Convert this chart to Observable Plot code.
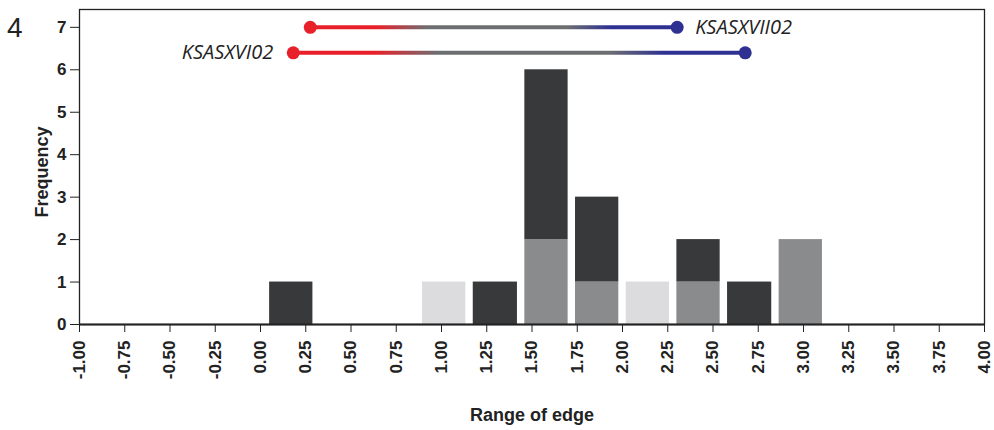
<!DOCTYPE html>
<html><head><meta charset="utf-8">
<script src="https://cdn.jsdelivr.net/npm/d3@7"></script>
<script src="https://cdn.jsdelivr.net/npm/@observablehq/plot@0.6"></script>
<style>
body{margin:0;background:#fff;}
#wrap{position:relative;width:994px;height:430px;}
#num{position:absolute;left:7px;top:12px;font:28px "Liberation Sans",Arial,sans-serif;color:#222;}
</style></head><body>
<div id="wrap"><div id="num">4</div></div>
<script>
// Histogram bins (range of edge)
const binStart = [0.03, 0.875, 1.155, 1.44, 1.72, 2.00, 2.28, 2.56, 2.845];
const binEnd   = [0.31, 1.155, 1.44, 1.72, 2.00, 2.28, 2.56, 2.845, 3.125];
// Stacked series (frequency)
const groups = ["light", "mid", "dark"];
const lightCounts = [0, 1, 0, 0, 0, 1, 0, 0, 0];
const midCounts   = [0, 0, 0, 2, 1, 0, 1, 0, 2];
const darkCounts  = [1, 0, 1, 4, 2, 0, 1, 1, 0];
const groupColors = ["#dcdcde", "#8a8b8d", "#38393b"];
// Range lines
const rangeNames = ["KSASXVII02", "KSASXVI02"];
const rangeStart = [0.275, 0.181];
const rangeEnd   = [2.302, 2.678];
const rangeLevel = [7, 6.4];
// Ticks
const xTicks = [-1, -0.75, -0.5, -0.25, 0, 0.25, 0.5, 0.75, 1, 1.25, 1.5, 1.75, 2, 2.25, 2.5, 2.75, 3, 3.25, 3.5, 3.75, 4];
const yTicks = [0, 1, 2, 3, 4, 5, 6, 7];

const series = [lightCounts, midCounts, darkCounts];
const bars = [];
binStart.forEach((x1, i) => {
  groups.forEach((g, j) => {
    const c = series[j][i];
    if (c > 0) bars.push({x1, x2: binEnd[i], group: g, count: c});
  });
});
const ranges = rangeNames.map((name, i) => ({name, start: rangeStart[i], end: rangeEnd[i], level: rangeLevel[i]}));

const gradStops = [[0, "#e8202a"], [0.18, "#e8202a"], [0.32, "#6d6e71"], [0.70, "#6d6e71"], [0.82, "#2e3192"], [1, "#2e3192"]];

function gradientRender(index, scales, values, dims, ctx, next) {
  const g = next(index, scales, values, dims, ctx);
  const defs = d3.create("svg:defs");
  index.forEach(i => {
    const lg = defs.append("linearGradient")
      .attr("id", "rg" + i)
      .attr("gradientUnits", "userSpaceOnUse")
      .attr("x1", values.x1[i]).attr("x2", values.x2[i])
      .attr("y1", 0).attr("y2", 0);
    gradStops.forEach(([o, c]) => lg.append("stop").attr("offset", o).attr("stop-color", c));
  });
  g.insertBefore(defs.node(), g.firstChild);
  d3.select(g).selectAll("path").each(function(_, j) {
    this.setAttribute("stroke", `url(#rg${index[j]})`);
  });
  return g;
}

const FONT = "'Liberation Sans', Arial, Helvetica, sans-serif";
const plot = Plot.plot({
  width: 994, height: 430,
  marginLeft: 79, marginRight: 10, marginTop: 9, marginBottom: 106,
  style: {fontFamily: FONT, fontSize: "17px", fontWeight: "bold", color: "#222", background: "transparent"},
  x: {domain: [-1, 4], ticks: xTicks, tickFormat: d => d.toFixed(2), tickRotate: -90, tickSize: 8, tickPadding: 8, label: null},
  y: {domain: [0, 7.42], ticks: yTicks, tickSize: 9, tickPadding: 4, label: null},
  color: {domain: groups, range: groupColors},
  marks: [
    Plot.rectY(bars, {x1: "x1", x2: "x2", y: "count", fill: "group", insetLeft: 3.7, insetRight: 3.7}),
    Plot.ruleY([0], {stroke: "#222", strokeWidth: 2}),
    Plot.frame({stroke: "#222", strokeWidth: 1.3}),
    Plot.link(ranges, {x1: "start", x2: "end", y1: "level", y2: "level", stroke: "#6d6e71", strokeWidth: 4, render: gradientRender}),
    Plot.dot(ranges, {x: "start", y: "level", r: 6.5, fill: "#e8202a"}),
    Plot.dot(ranges, {x: "end", y: "level", r: 6.5, fill: "#2e3192"}),
    Plot.text([ranges[0]], {x: "end", y: "level", text: "name", textAnchor: "start", dx: 18, fontSize: 20, fontStyle: "italic", fontWeight: "normal", fontFamily: "'Open Sans', sans-serif", fill: "#222"}),
    Plot.text([ranges[1]], {x: "start", y: "level", text: "name", textAnchor: "end", dx: -20, fontSize: 20, fontStyle: "italic", fontWeight: "normal", fontFamily: "'Open Sans', sans-serif", fill: "#222"}),
    Plot.text(["Range of edge"], {frameAnchor: "bottom", dy: 91, text: d => d, textAnchor: "middle", fontSize: 18, fontWeight: "bold", lineAnchor: "middle"}),
    Plot.text(["Frequency"], {frameAnchor: "left", dx: -37, dy: 5, rotate: -90, text: d => d, textAnchor: "middle", fontSize: 18, fontWeight: "bold", lineAnchor: "middle"})
  ]
});
document.getElementById("wrap").appendChild(plot);
plot.style.position = "absolute";
plot.style.left = "0";
plot.style.top = "0";
</script>
</body></html>
